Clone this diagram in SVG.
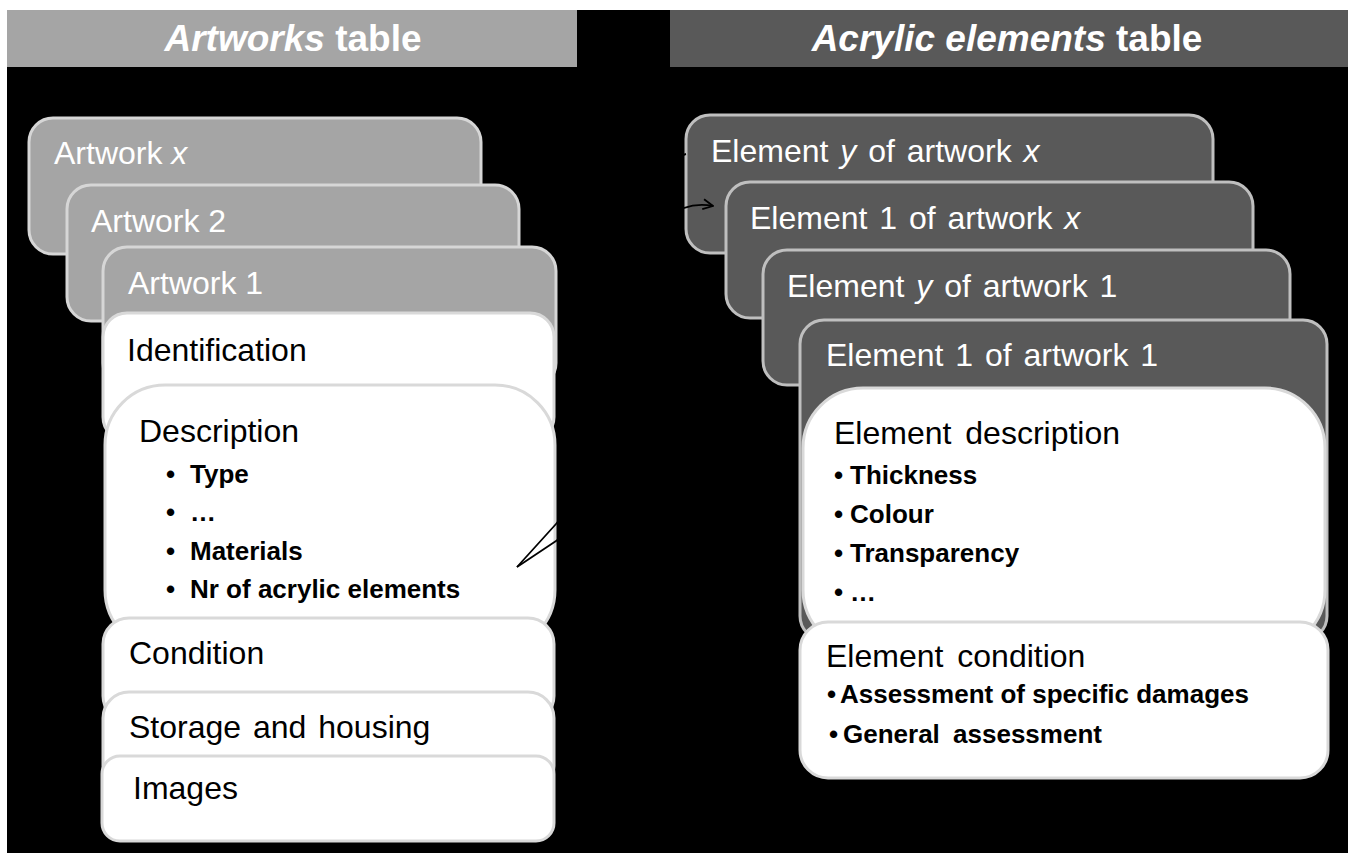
<svg xmlns="http://www.w3.org/2000/svg" width="1350" height="854" viewBox="0 0 1350 854">
  <defs>
    <style>
      text { font-family: "Liberation Sans", Arial, sans-serif; }
      .title { font-size: 37px; font-weight: bold; fill: #ffffff; text-anchor: middle; }
      .lbl { font-size: 32px; }
      .lblw { font-size: 32px; fill: #ffffff; }
      .lblk { font-size: 32px; fill: #000000; }
      .bul { font-size: 26px; font-weight: bold; fill: #000000; }
      .it { font-style: italic; }
      .pl { fill: #a5a5a5; stroke: #d6d6d6; stroke-width: 3; }
      .pr { fill: #595959; stroke: #bfbfbf; stroke-width: 3; }
      .pw { fill: #ffffff; stroke: #d9d9d9; stroke-width: 3; }
      .conn { fill: none; stroke: #000000; stroke-width: 1.8; }
    </style>
    <marker id="arr" viewBox="0 0 12 12" refX="11" refY="6" markerWidth="12" markerHeight="12" markerUnits="userSpaceOnUse" orient="auto">
      <path d="M1,1 L11,6 L1,11" fill="none" stroke="#000000" stroke-width="1.8"/>
    </marker>
  </defs>

  <rect x="0" y="0" width="1350" height="854" fill="#ffffff"/>
  <rect x="7" y="10" width="1341" height="843" fill="#000000"/>

  <g id="header-artworks">
    <rect x="7" y="10" width="570" height="57" fill="#a5a5a5"/>
    <text class="title" x="293" y="51"><tspan class="it">Artworks</tspan> table</text>
  </g>
  <g id="header-acrylic">
    <rect x="670" y="10" width="678" height="57" fill="#595959"/>
    <text class="title" x="1007" y="51"><tspan class="it">Acrylic elements</tspan> table</text>
  </g>

  <!-- Left stack -->
  <g id="artwork-x">
    <rect class="pl" x="29" y="118" width="452" height="136" rx="24"/>
    <text class="lblw" x="54" y="164">Artwork <tspan class="it">x</tspan></text>
  </g>
  <g id="artwork-2">
    <rect class="pl" x="67" y="185" width="452" height="136" rx="24"/>
    <text class="lblw" x="91" y="232">Artwork 2</text>
  </g>
  <g id="artwork-1">
    <rect class="pl" x="103" y="247" width="453" height="140" rx="24"/>
    <text class="lblw" x="128" y="294">Artwork 1</text>
  </g>
  <g id="identification">
    <rect class="pw" x="103" y="313" width="451" height="128" rx="24"/>
    <text class="lblk" x="127" y="361">Identification</text>
  </g>
  <g id="description">
    <rect class="pw" x="105" y="385" width="450" height="265" rx="60"/>
    <text class="lblk" x="139" y="442">Description</text>
    <text class="bul" x="166" y="483">•</text><text class="bul" x="190" y="483">Type</text>
    <text class="bul" x="166" y="521">•</text><text class="bul" x="190" y="521">…</text>
    <text class="bul" x="166" y="560">•</text><text class="bul" x="190" y="560">Materials</text>
    <text class="bul" x="166" y="598">•</text><text class="bul" x="190" y="598">Nr of acrylic elements</text>
  </g>
  <g id="condition">
    <rect class="pw" x="103" y="618" width="451" height="104" rx="26"/>
    <text class="lblk" x="129" y="664">Condition</text>
  </g>
  <g id="storage">
    <rect class="pw" x="103" y="692" width="451" height="100" rx="26"/>
    <text class="lblk" x="129" y="738" word-spacing="3">Storage and housing</text>
  </g>
  <g id="images">
    <rect class="pw" x="102" y="756" width="452" height="85" rx="18"/>
    <text class="lblk" x="133" y="799">Images</text>
  </g>

  <!-- Right stack -->
  <g id="element-y-x">
    <rect class="pr" x="686" y="115" width="527" height="138" rx="24"/>
    <text class="lblw" x="711" y="162" word-spacing="3">Element <tspan class="it">y</tspan> of artwork <tspan class="it">x</tspan></text>
  </g>
  <g id="element-1-x">
    <rect class="pr" x="726" y="182" width="527" height="136" rx="24"/>
    <text class="lblw" x="750" y="229" word-spacing="3">Element 1 of artwork <tspan class="it">x</tspan></text>
  </g>
  <g id="element-y-1">
    <rect class="pr" x="763" y="250" width="527" height="135" rx="24"/>
    <text class="lblw" x="787" y="297" word-spacing="3">Element <tspan class="it">y</tspan> of artwork 1</text>
  </g>
  <g id="element-1-1">
    <rect class="pr" x="800" y="320" width="527" height="320" rx="24"/>
    <text class="lblw" x="826" y="366" word-spacing="3">Element 1 of artwork 1</text>
  </g>
  <g id="element-description">
    <rect class="pw" x="803" y="388" width="522" height="262" rx="60"/>
    <text class="lblk" x="834" y="444" word-spacing="5">Element description</text>
    <text class="bul" x="834" y="484">•</text><text class="bul" x="850" y="484">Thickness</text>
    <text class="bul" x="834" y="523">•</text><text class="bul" x="850" y="523">Colour</text>
    <text class="bul" x="834" y="562">•</text><text class="bul" x="850" y="562">Transparency</text>
    <text class="bul" x="834" y="601">•</text><text class="bul" x="850" y="601">…</text>
  </g>
  <g id="element-condition">
    <rect class="pw" x="800" y="622" width="528" height="156" rx="28"/>
    <text class="lblk" x="826" y="667" word-spacing="5">Element condition</text>
    <text class="bul" x="827" y="703">•</text><text class="bul" x="840" y="703">Assessment of specific damages</text>
    <text class="bul" x="829" y="743">•</text><text class="bul" x="843" y="743" word-spacing="6">General assessment</text>
  </g>

  <!-- Connectors -->
  <g id="connectors">
    <path class="conn" d="M517,567 L556,524 C600,476 600,185 713,206" marker-end="url(#arr)"/>
    <path class="conn" d="M517,567 L556,541 C610,505 630,165 686,154"/>
  </g>
</svg>
